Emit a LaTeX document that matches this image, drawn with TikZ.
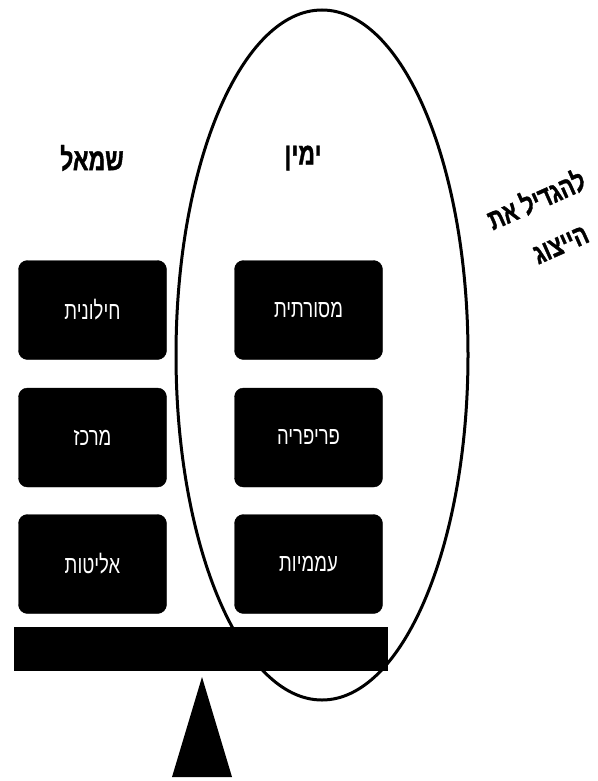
\documentclass[tikz,border=0pt]{standalone}
\usepackage{fontspec}
\TeXXeTstate=1
\newfontfamily\hebcond[Script=Hebrew,FakeStretch=0.74]{Liberation Sans}
\newfontfamily\hebbold[Script=Hebrew,FakeStretch=0.74,FakeBold=1.2]{Liberation Sans Bold}
\begin{document}
\begin{tikzpicture}[x=1pt,y=-1pt,
  choice/.style={rounded corners=9pt, fill=black, draw=black, text=white,
    minimum width=148pt, minimum height=99pt, inner sep=0pt,
    font=\hebcond\fontsize{25}{27}\selectfont},
  title/.style={font=\hebbold\fontsize{31}{33}\selectfont, inner sep=0pt},
  notetext/.style={font=\hebbold\fontsize{29}{31}\selectfont, rotate=24, inner sep=0pt},
  beam/.style={fill=black, minimum width=374pt, minimum height=44pt, inner sep=0pt},
]
\useasboundingbox (0,0) rectangle (597,781);
% ellipse
\draw[line width=3pt] (322,355) ellipse [x radius=146pt, y radius=345pt];
% titles
\node[title] (left) at (92,158) {\beginR שמאל\endR};
\node[title] (right) at (303,158) {\beginR ימין\endR};
% boxes
\node[choice] (b1) at (92.5,310) {\beginR חילונית\endR};
\node[choice] (b2) at (92.5,437.5) {\beginR מרכז\endR};
\node[choice] (b3) at (92.5,564) {\beginR אליטות\endR};
\node[choice] (c1) at (308.5,310) {\beginR מסורתית\endR};
\node[choice] (c2) at (308.5,437.5) {\beginR פריפריה\endR};
\node[choice] (c3) at (308.5,564) {\beginR עממיות\endR};
% beam
\node[beam] (bar) at (201,649) {};
% fulcrum
\fill (172,777) -- (202,677) -- (232,777) -- cycle;
% rotated note
\node[notetext] (note1) at (536,199) {\beginR להגדיל את\endR};
\node[notetext] (note2) at (561,245) {\beginR הייצוג\endR};
\end{tikzpicture}
\end{document}
